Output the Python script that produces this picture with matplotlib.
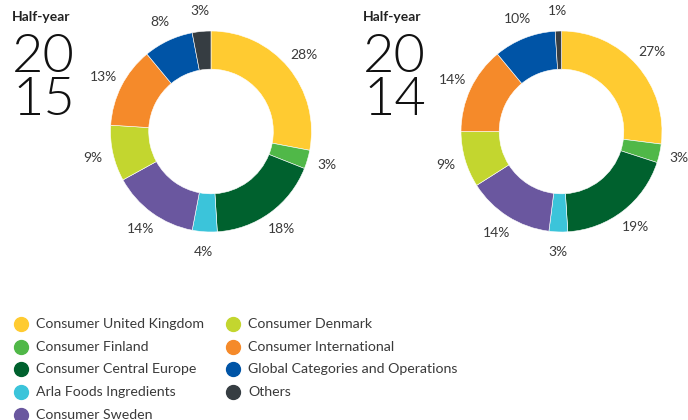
import matplotlib.pyplot as plt
from matplotlib.lines import Line2D

categories = [
    "Consumer United Kingdom",
    "Consumer Finland",
    "Consumer Central Europe",
    "Arla Foods Ingredients",
    "Consumer Sweden",
    "Consumer Denmark",
    "Consumer International",
    "Global Categories and Operations",
    "Others",
]
share_2015 = [28, 3, 18, 4, 14, 9, 13, 8, 3]
share_2014 = [27, 3, 19, 3, 14, 9, 14, 10, 1]
colors = ["#FFCB31", "#50B848", "#00612E", "#3BC4DA", "#6A579F",
          "#C3D62F", "#F58A2A", "#0054A6", "#363D42"]

W, H = 688, 420
txt_color = "#3a3a3a"
font = ["Lato", "DejaVu Sans"]

fig = plt.figure(figsize=(W / 100, H / 100), dpi=100)


def donut(cx, cy, r, values, year, tx):
    ax = fig.add_axes([(cx - r) / W, (H - cy - r) / H, 2 * r / W, 2 * r / H])
    ax.pie(values, colors=colors, startangle=90, counterclock=False,
           radius=1, labels=[f"{v}%" for v in values], labeldistance=1.2,
           wedgeprops=dict(width=0.38, edgecolor="white", linewidth=0.4),
           textprops=dict(fontsize=10, color=txt_color, family=font,
                          ha="center", va="center"))
    for t in ax.texts:
        t.set_horizontalalignment("center")
    ax.set_xlim(-1, 1)
    ax.set_ylim(-1, 1)
    ax.set_aspect("equal")
    ax.axis("off")
    fig.text(tx / W, 1 - 21 / H, "Half-year", fontsize=10, fontweight="bold",
             color="#222222", family=font, va="baseline")
    fig.text(tx / W, 1 - 72 / H, year[:2], fontsize=39, fontweight=300,
             color="#111111", family=font, va="baseline")
    fig.text(tx / W, 1 - 115 / H, year[2:], fontsize=39, fontweight=300,
             color="#111111", family=font, va="baseline")


donut(211, 131.5, 100.5, share_2015, "2015", 12)
donut(561.5, 131.5, 100.5, share_2014, "2014", 363)

# legend, two columns
for i, (name, c) in enumerate(zip(categories, colors)):
    col, row = (0, i) if i < 5 else (1, i - 5)
    mx = 21 if col == 0 else 233
    y = 324 + row * 22.7
    fig.add_artist(Line2D([mx / W], [1 - y / H], marker="o", markersize=10,
                          color=c, linestyle="none", transform=fig.transFigure))
    fig.text((mx + 15) / W, 1 - y / H, name, fontsize=10.2, color=txt_color,
             family=font, va="center")

fig.savefig("out.png", dpi=100)
